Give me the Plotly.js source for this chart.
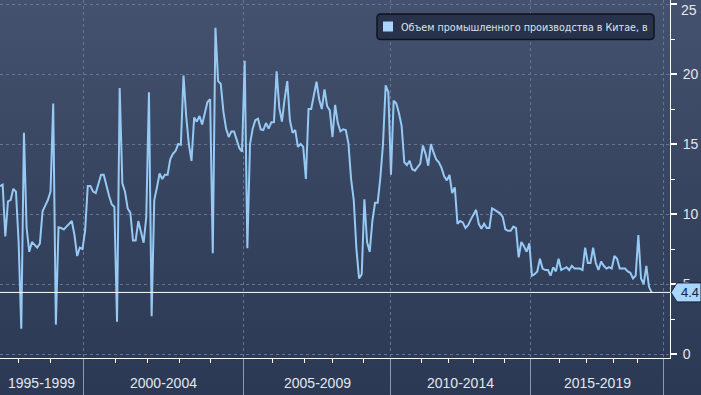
<!DOCTYPE html>
<html>
<head>
<meta charset="utf-8">
<script src="https://cdn.plot.ly/plotly-3.0.1.min.js"></script>
<style>
  html, body { margin: 0; padding: 0; }
  body { width: 701px; height: 395px; overflow: hidden;
         background: linear-gradient(to bottom, #44526f 0%, #36445f 50%, #2b3955 100%); }
  #chart { width: 701px; height: 395px; }
</style>
</head>
<body>
<div id="chart"></div>
<script>
// ---- Data (monthly observations, plotted by observation number) ----
const seriesName = 'Объем промышленного производства в Китае, в';
const ipValues = [
  12.0, 12.1, 8.4, 10.9, 11.0, 11.8, 11.6, 8.0, 1.8, 15.8,
  9.0, 7.3, 8.0, 7.8, 7.6, 7.9, 10.2, 10.6, 11.0, 11.6,
  17.9, 2.1, 9.05, 9.0, 8.9, 9.1, 9.3, 9.5, 8.5, 7.0,
  7.6, 7.5, 8.8, 12.0, 12.0, 11.6, 11.5, 12.2, 12.8, 12.8,
  12.0, 11.3, 10.7, 10.5, 2.3, 19.0, 12.2, 11.6, 10.4, 10.1,
  8.1, 8.1, 9.5, 8.6, 7.95, 9.8, 18.7, 2.7, 11.0, 11.9,
  12.9, 12.5, 12.8, 12.8, 13.9, 14.3, 14.5, 15.0, 14.95, 19.9,
  17.0, 15.0, 13.8, 16.9, 16.6, 17.0, 16.4, 17.2, 18.0, 18.2,
  7.2, 23.3, 19.5, 19.3, 17.3, 16.1, 15.5, 15.9, 15.9, 15.3,
  14.7, 14.45, 20.95, 7.55, 15.0, 16.1, 16.7, 16.8, 16.05, 16.0,
  16.5, 16.1, 16.55, 16.55, 20.2, 17.6, 16.6, 18.2, 19.5, 16.7,
  15.8, 16.0, 14.8, 15.0, 14.8, 12.5, 17.5, 17.5, 18.5, 19.45,
  18.2, 17.5, 18.9, 17.7, 17.4, 15.5, 17.8, 16.5, 15.9, 16.05,
  16.0, 15.05, 12.5, 11.0, 7.5, 5.4, 5.7, 11.05, 8.0, 7.3,
  9.5, 10.8, 10.8, 12.6, 15.0, 19.2, 18.7, 12.8, 18.1, 17.9,
  17.2, 16.3, 13.7, 13.5, 13.8, 13.2, 13.1, 13.4, 13.6, 14.9,
  14.3, 13.45, 15.0, 14.4, 13.9, 13.7, 13.3, 12.7, 12.4, 12.8,
  11.5, 11.9, 9.3, 9.5, 9.4, 9.0, 9.2, 9.6, 9.9, 10.3,
  9.3, 8.95, 9.3, 9.0, 9.0, 10.4, 10.3, 10.2, 10.05, 9.8,
  8.9, 8.8, 8.8, 9.1, 9.0, 6.9, 8.0, 7.7, 7.3, 7.9,
  5.6, 5.7, 5.9, 6.8, 6.1, 6.0, 6.0, 5.6, 6.2, 5.9,
  6.8, 6.0, 6.1, 6.2, 6.0, 6.3, 6.1, 6.1, 6.1, 6.0,
  7.6, 6.5, 6.5, 7.6, 6.5, 6.0, 6.6, 6.3, 6.1, 6.2,
  6.1, 7.0, 6.8, 6.1, 6.1, 6.1, 5.9, 5.8, 5.4, 5.6,
  8.5, 5.4, 5.0, 6.3, 4.8, 4.4
];
// year starts (in observation units) – small ticks
const yearTicks = [7, 19, 31.5, 43.5, 55.5, 67.5, 79, 91.5, 102.5, 114.5, 125, 136.5,
                   147, 158.5, 168.5, 178, 189.5, 199.5, 210.5, 220.5, 230.5, 239.5, 249.5];
// 5-year period boundaries and labels
const periodBounds = [0, 31.5, 91.5, 147, 199.5, 249.5];
const periodLabels = ['1995-1999', '2000-2004', '2005-2009', '2010-2014', '2015-2019'];
const yTickVals = [0, 5, 10, 15, 20, 25];
const xRange = [0, 251.9];
const yRange = [-0.286, 25.29];

// ---- Geometry helpers ----
const W = 701, H = 395, ML = 0, MR = 31, MT = 0, MB = 37;
const PW = W - ML - MR, PH = H - MT - MB;
const xp = px => (px - ML) / PW;            // pixel -> paper x
const yp = py => 1 - (py - MT) / PH;         // pixel -> paper y
const yPaperOf = v => (v - yRange[0]) / (yRange[1] - yRange[0]);

function roundRectPath(x0, y0, x1, y1, r) {
  const P = (x, y) => xp(x).toFixed(5) + ',' + yp(y).toFixed(5);
  return 'M' + P(x0 + r, y0) + ' L' + P(x1 - r, y0) + ' Q' + P(x1, y0) + ' ' + P(x1, y0 + r) +
         ' L' + P(x1, y1 - r) + ' Q' + P(x1, y1) + ' ' + P(x1 - r, y1) +
         ' L' + P(x0 + r, y1) + ' Q' + P(x0, y1) + ' ' + P(x0, y1 - r) +
         ' L' + P(x0, y0 + r) + ' Q' + P(x0, y0) + ' ' + P(x0 + r, y0) + ' Z';
}

const lineColor = '#96c9f4';
const textColor = '#e4e7ec';
const tickFont = { family: 'Liberation Sans, Arial, sans-serif', size: 14, color: textColor };
const lastVal = ipValues[ipValues.length - 1];
const lastYp = yPaperOf(lastVal);
const tagH = 9.5 / PH;
const topTick = yTickVals[yTickVals.length - 1];

const trace = {
  x: ipValues.map((_, i) => i),
  y: ipValues,
  type: 'scatter', mode: 'lines',
  line: { color: lineColor, width: 2 },
  hoverinfo: 'skip', showlegend: false
};

const annotations = periodLabels.map((t, k) => ({
  x: (periodBounds[k] + periodBounds[k + 1]) / 2, xref: 'x',
  y: yp(383), yref: 'paper', yanchor: 'middle', xanchor: 'center',
  text: t, showarrow: false, font: tickFont
}));
// top y label, pushed inside the picture as in the original
annotations.push({
  x: xp(679), xref: 'paper', y: yp(10), yref: 'paper', xanchor: 'left', yanchor: 'middle',
  text: String(topTick), showarrow: false, font: tickFont
});
// last value tag text
annotations.push({
  x: xp(689.5), xref: 'paper', y: lastYp, yref: 'paper', xanchor: 'center', yanchor: 'middle',
  text: String(lastVal), showarrow: false,
  font: { family: 'Liberation Sans, Arial, sans-serif', size: 13, color: '#14213a' }
});
// legend text
annotations.push({
  x: xp(399), xref: 'paper', y: yp(27), yref: 'paper', xanchor: 'left', yanchor: 'middle',
  text: seriesName, showarrow: false,
  font: { family: 'DejaVu Sans, sans-serif', size: 9.6, color: '#dde2ea' }
});

const shapes = [
  // last value line
  { type: 'line', xref: 'paper', yref: 'paper', x0: 0, x1: 1, y0: lastYp, y1: lastYp,
    line: { color: '#ffffff', width: 1 }, layer: 'above' },
  // last value tag
  { type: 'path', xref: 'paper', yref: 'paper',
    path: 'M' + xp(671) + ',' + lastYp + ' L' + xp(677) + ',' + (lastYp + tagH) +
          ' L' + xp(701) + ',' + (lastYp + tagH) + ' L' + xp(701) + ',' + (lastYp - tagH) +
          ' L' + xp(677) + ',' + (lastYp - tagH) + ' Z',
    fillcolor: '#a8d5fb', line: { color: '#16213a', width: 1 }, layer: 'above' },
  // legend box
  { type: 'path', xref: 'paper', yref: 'paper', path: roundRectPath(377, 14, 654, 39.5, 4),
    fillcolor: 'rgba(35,45,68,0.85)', line: { color: '#0e131d', width: 1.5 }, layer: 'above' },
  // legend swatch
  { type: 'rect', xref: 'paper', yref: 'paper', x0: xp(383), x1: xp(393), y0: yp(21.5), y1: yp(31.5),
    fillcolor: '#a9d4fb', line: { width: 0 }, layer: 'above' }
];

const layout = {
  width: W, height: H,
  margin: { l: ML, r: MR, t: MT, b: MB, pad: 0 },
  paper_bgcolor: 'rgba(0,0,0,0)', plot_bgcolor: 'rgba(0,0,0,0)',
  showlegend: false,
  xaxis: {
    range: xRange, showline: true, linecolor: '#ffffff', linewidth: 1,
    tickmode: 'array', tickvals: periodBounds.slice(1), showticklabels: false,
    ticks: 'outside', ticklen: 37, tickwidth: 1, tickcolor: '#8d98ab',
    showgrid: true, gridcolor: '#66768f', griddash: 'dot', gridwidth: 1,
    zeroline: false, fixedrange: true,
    minor: { tickmode: 'array', tickvals: yearTicks, ticks: 'outside', ticklen: 4,
             tickwidth: 1, tickcolor: '#ffffff', showgrid: false }
  },
  yaxis: {
    range: yRange, side: 'right', showline: true, linecolor: '#ffffff', linewidth: 1,
    tickmode: 'array', tickvals: yTickVals,
    ticktext: yTickVals.map(v => (v === topTick ? '' : String(v))),
    ticks: 'outside', ticklen: 6, tickwidth: 2, tickcolor: '#ffffff',
    ticklabelstandoff: 3,
    tickfont: tickFont,
    showgrid: true, gridcolor: '#66768f', griddash: 'dot', gridwidth: 1,
    zeroline: false, fixedrange: true,
    minor: { dtick: 2.5, ticks: 'outside', ticklen: 4, tickwidth: 1, tickcolor: '#ffffff', showgrid: false }
  },
  annotations: annotations,
  shapes: shapes
};

Plotly.newPlot('chart', [trace], layout, { staticPlot: true, displayModeBar: false });
</script>
</body>
</html>
